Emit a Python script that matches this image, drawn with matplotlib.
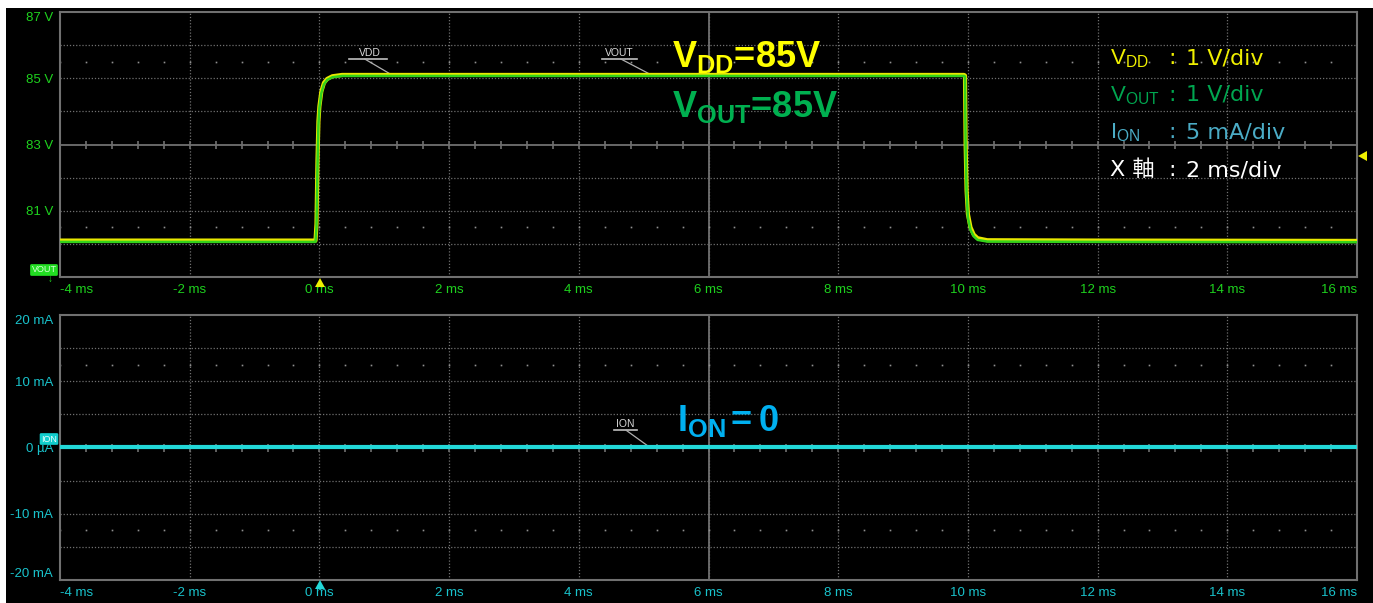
import numpy as np
import matplotlib
matplotlib.use('Agg')
import matplotlib.pyplot as plt

plt.rcParams['font.family'] = ['Liberation Sans', 'DejaVu Sans']
plt.rcParams['mathtext.fontset'] = 'custom'
plt.rcParams['mathtext.rm'] = 'Liberation Sans'
plt.rcParams['mathtext.bf'] = 'Liberation Sans:bold'
plt.rcParams['mathtext.it'] = 'Liberation Sans'

# 波形データ
t_vdd = [-4.0, -0.06, -0.045, -0.03, -0.015, 0.0, 0.03, 0.07, 0.12, 0.2, 0.35,
         9.94, 9.955, 9.965, 9.98, 10.0, 10.04, 10.09, 10.15, 10.3, 12.0, 16.0]
v_vdd = [80.1, 80.1, 80.6, 82.5, 83.7, 84.15, 84.6, 84.86, 84.98, 85.06, 85.1,
         85.1, 85.08, 83.0, 81.6, 80.9, 80.5, 80.28, 80.17, 80.11, 80.1, 80.09]
t_vout = t_vdd
v_vout = [80.06, 80.06, 80.5, 82.3, 83.6, 84.1, 84.55, 84.82, 84.95, 85.03, 85.07,
          85.07, 85.05, 82.9, 81.5, 80.8, 80.42, 80.23, 80.12, 80.07, 80.06, 80.05]
t_ion = [-4.0, 16.0]
i_ion = [0.1, 0.1]

x_ticks = [-4, -2, 0, 2, 4, 6, 8, 10, 12, 14, 16]
x_labels = ['-4 ms', '-2 ms', '0 ms', '2 ms', '4 ms', '6 ms', '8 ms',
            '10 ms', '12 ms', '14 ms', '16 ms']
v_ticks = [87, 85, 83, 81]
v_labels = ['87 V', '85 V', '83 V', '81 V']
i_ticks = [20, 10, 0, -10, -20]
i_labels = ['20 mA', '10 mA', '0 µA', '-10 mA', '-20 mA']

W, H = 1373, 603
fig = plt.figure(figsize=(W / 100, H / 100), dpi=100)
fig.patch.set_facecolor('white')
fig.add_artist(plt.Rectangle((6 / W, 0), 1, 1 - 8 / H, transform=fig.transFigure,
                             facecolor='black', edgecolor='none', zorder=-10))


def px(x, y):
    return x / W, 1 - y / H


GRID = '#707070'
ax1 = fig.add_axes([60 / W, 1 - 277 / H, 1297 / W, 265 / H])
ax2 = fig.add_axes([60 / W, 1 - 580 / H, 1297 / W, 265 / H])


def style(ax, ylim, yt, ylab, ymajor, dots_y, center_y, lab_col):
    ax.set_facecolor('black')
    ax.set_xlim(-4, 16)
    ax.set_ylim(*ylim)
    for s in ax.spines.values():
        s.set_color(GRID)
        s.set_linewidth(1.5)
    for y in ymajor:
        ax.axhline(y, color=GRID, lw=0.9, ls=(0, (1, 1.5)), zorder=1)
    for x in x_ticks[1:-1]:
        ax.axvline(x, color=GRID, lw=0.9, ls=(0, (1, 1.5)), zorder=1)
    ax.axhline(center_y, color=GRID, lw=1.3, zorder=1)
    ax.axvline(6, color=GRID, lw=1.3, zorder=1)
    tk = np.arange(-4, 16.01, 0.4)
    ax.plot(tk, [center_y] * len(tk), ls='none', marker='|', ms=6, mew=1.2,
            color=GRID, zorder=1)
    for y in dots_y:
        ax.plot(tk, [y] * len(tk), ls='none', marker='s', ms=1.2, mew=0,
                color='#909090', zorder=1)
    ax.set_xticks(x_ticks)
    ax.set_xticklabels(x_labels)
    ax.set_yticks(yt)
    ax.set_yticklabels(ylab)
    ax.tick_params(length=0, colors=lab_col, labelsize=9.5, pad=5)
    xl = ax.get_xticklabels()
    xl[0].set_ha('left')
    xl[-1].set_ha('right')


style(ax1, (79, 87), v_ticks, v_labels, [80, 81, 82, 84, 85, 86], [85.5, 80.5], 83, '#1ed21e')
style(ax2, (-20, 20), i_ticks, i_labels, [-15, -10, -5, 5, 10, 15], [12.5, -12.5], 0, '#19c3cc')
ax1.get_yticklabels()[0].set_va('top')
ax2.get_yticklabels()[0].set_va('top')
ax2.get_yticklabels()[-1].set_va('bottom')

# 波形
ax1.plot(t_vdd, v_vdd, color='#e8e800', lw=3.0, zorder=3, solid_joinstyle='round')
ax1.plot(t_vout, v_vout, color='#33d21a', lw=1.8, zorder=4, solid_joinstyle='round')
ax2.plot(t_ion, i_ion, color='#22d8d8', lw=3.0, zorder=3)

# トレース名
lab_kw = dict(color='#d8d8d8', fontsize=7.5, ha='center', va='bottom')
ax1.text(0.78, 85.62, 'VDD', **lab_kw)
ax1.plot([0.45, 1.05], [85.58, 85.58], color='#c0c0c0', lw=1.2)
ax1.plot([0.7, 1.1], [85.58, 85.12], color='#b0b0b0', lw=0.9)
ax1.text(4.63, 85.62, 'VOUT', **lab_kw)
ax1.plot([4.36, 4.9], [85.58, 85.58], color='#c0c0c0', lw=1.2)
ax1.plot([4.65, 5.1], [85.58, 85.12], color='#b0b0b0', lw=0.9)
ax2.text(4.72, 2.8, 'ION', **lab_kw)
ax2.plot([4.54, 4.9], [2.6, 2.6], color='#c0c0c0', lw=1.2)
ax2.plot([4.73, 5.07], [2.6, 0.2], color='#b0b0b0', lw=0.9)

# チャンネルマーカー
fig.text(*px(44, 270), 'VOUT', fontsize=6.5, color='#d8ffd8', ha='center', va='center',
         bbox=dict(boxstyle='round,pad=0.15', fc='#22dd22', ec='none'))
fig.text(*px(49, 439), 'ION', fontsize=6.5, color='#e8ffff', ha='center', va='center',
         bbox=dict(boxstyle='round,pad=0.15', fc='#11cccc', ec='none'))
fig.text(*px(50, 279), '↓', fontsize=7, color='#22dd22', ha='center', va='center')
fig.add_artist(plt.Polygon([px(315, 287), px(325, 287), px(320, 278)], closed=True,
                           transform=fig.transFigure, fc='#f0f000', ec='none'))
fig.add_artist(plt.Polygon([px(315, 589), px(325, 589), px(320, 580)], closed=True,
                           transform=fig.transFigure, fc='#22d8d8', ec='none'))
fig.add_artist(plt.Polygon([px(1358, 156), px(1367, 151), px(1367, 161)], closed=True,
                           transform=fig.transFigure, fc='#f0f000', ec='none'))

# 注釈（大）
fig.text(*px(672, 67), r'$\mathbf{V_{DD}}$' + '=85V', fontsize=26, fontweight='bold',
         color='#ffff00', va='baseline')
fig.text(*px(672, 117), r'$\mathbf{V_{OUT}}$' + '=85V', fontsize=26, fontweight='bold',
         color='#00b050', va='baseline')
fig.text(*px(677, 431), r'$\mathbf{I_{ON}}$', fontsize=26, fontweight='bold',
         color='#00b0f0', va='baseline')
fig.text(*px(731, 431), '=', fontsize=26, fontweight='bold',
         color='#00b0f0', va='baseline')
fig.text(*px(759, 431), '0', fontsize=26, fontweight='bold',
         color='#00b0f0', va='baseline')

# 凡例
leg_fam = ['DejaVu Sans', 'Noto Sans CJK JP']
leg = [(64, r'$\mathrm{V_{DD}}$', '1 V/div', '#f0f000'),
       (101, r'$\mathrm{V_{OUT}}$', '1 V/div', '#00a650'),
       (138, r'$\mathrm{I_{ON}}$', '5 mA/div', '#4bacc6'),
       (176, 'X 軸', '2 ms/div', '#ffffff')]
for y, name, val, c in leg:
    fig.text(*px(1110, y), name, fontsize=16, color=c, va='baseline', family=leg_fam)
    fig.text(*px(1168, y), ':', fontsize=16, color=c, va='baseline', family=leg_fam)
    fig.text(*px(1186, y), val, fontsize=16, color=c, va='baseline', family=leg_fam)

fig.savefig('out.png', dpi=100, facecolor=fig.get_facecolor())
